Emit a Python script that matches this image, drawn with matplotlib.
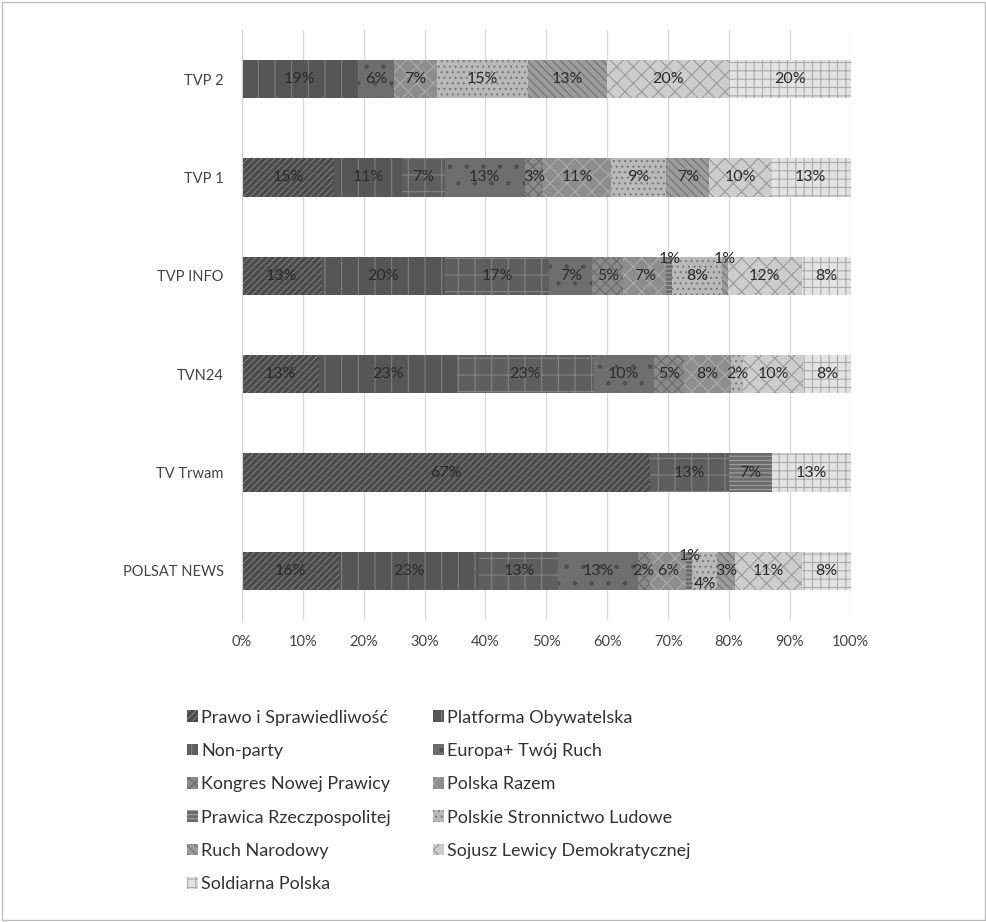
import numpy as np
import matplotlib
matplotlib.use('Agg')
import matplotlib.pyplot as plt
from matplotlib.patches import Rectangle

plt.rcParams['font.family'] = ['Lato', 'DejaVu Sans']
plt.rcParams['hatch.linewidth'] = 0.8

# Channels, top to bottom
channels = ['TVP 2', 'TVP 1', 'TVP INFO', 'TVN24', 'TV Trwam', 'POLSAT NEWS']

parties = ['Prawo i Sprawiedliwość', 'Platforma Obywatelska', 'Non-party',
           'Europa+ Twój Ruch', 'Kongres Nowej Prawicy', 'Polska Razem',
           'Prawica Rzeczpospolitej', 'Polskie Stronnictwo Ludowe',
           'Ruch Narodowy', 'Sojusz Lewicy Demokratycznej', 'Soldiarna Polska']

# share (%) per party, one list per channel, in party order
tvp2 = [0, 19, 0, 6, 0, 7, 0, 15, 13, 20, 20]
tvp1 = [15, 11, 7, 13, 3, 11, 0, 9, 7, 10, 13]
tvp_info = [13, 20, 17, 7, 5, 7, 1, 8, 1, 12, 8]
tvn24 = [13, 23, 23, 10, 5, 8, 0, 2, 0, 10, 8]
tv_trwam = [67, 0, 13, 0, 0, 0, 7, 0, 0, 0, 13]
polsat = [16, 23, 13, 13, 2, 6, 1, 4, 3, 11, 8]

# fill colour, hatch colour, hatch pattern for every party
styles = [
    ('#4b4b4b', '#7c7c7c', '/////'),
    ('#565656', '#7e7e7e', '|'),
    ('#5e5e5e', '#838383', '+'),
    ('#6e6e6e', '#4f4f4f', '.'),
    ('#8a8a8a', '#6a6a6a', 'xxx'),
    ('#8d8d8d', '#ababab', 'xx'),
    ('#6c6c6c', '#a0a0a0', '----'),
    ('#b9b9b9', '#7a7a7a', '...'),
    ('#9c9c9c', '#727272', '\\\\\\\\'),
    ('#cdcdcd', '#9a9a9a', 'xx'),
    ('#e3e3e3', '#ababab', '++'),
]

# labels that sit above/below the bar for tiny segments: (row, party) -> dy
label_shift = {(2, 6): -0.17, (2, 8): -0.17, (5, 6): -0.15, (5, 7): 0.13}

data = np.array([tvp2, tvp1, tvp_info, tvn24, tv_trwam, polsat], dtype=float)
shares = data / data.sum(axis=1, keepdims=True) * 100

fig = plt.figure(figsize=(9.87, 9.22), dpi=100)
ax = fig.add_axes([0.245, 0.3275, 0.617, 0.64])

y = np.arange(len(channels))
left = np.zeros(len(channels))
handles = []
for j, party in enumerate(parties):
    fc, hc, hatch = styles[j]
    bars = ax.barh(y, shares[:, j], left=left, height=0.39, color=fc,
                   edgecolor=hc, hatch=hatch, linewidth=0, label=party)
    handles.append(bars)
    for i in range(len(channels)):
        if data[i, j] > 0:
            dy = label_shift.get((i, j), 0)
            ax.text(left[i] + shares[i, j] / 2, y[i] + dy, f'{int(data[i, j])}%',
                    ha='center', va='center', fontsize=11.5, color='#2b2b2b')
    left += shares[:, j]

ax.set_xlim(0, 100)
ax.set_ylim(len(channels) - 0.5, -0.5)
ax.set_yticks(y)
ax.set_yticklabels(channels, fontsize=10.5, color='#444444')
ax.set_xticks(np.arange(0, 101, 10))
ax.set_xticklabels([f'{v}%' for v in range(0, 101, 10)], fontsize=10.5, color='#444444')
ax.tick_params(length=0, pad=11)
ax.tick_params(axis='y', pad=13)
ax.grid(axis='x', color='#d9d9d9', linewidth=0.9)
ax.set_axisbelow(True)
for side in ['top', 'right', 'bottom']:
    ax.spines[side].set_visible(False)
ax.spines['left'].set_color('#d0d0d0')

# legend fills row by row in the reference, matplotlib fills by column
order = [0, 2, 4, 6, 8, 10, 1, 3, 5, 7, 9]
fig.legend([handles[k] for k in order], [parties[k] for k in order],
           ncol=2, loc='upper left', bbox_to_anchor=(0.173, 0.248),
           frameon=False, fontsize=13, handlelength=0.6, handleheight=0.6,
           handletextpad=0.2, columnspacing=2.3, labelspacing=0.96,
           labelcolor='#333333')

fig.patches.append(Rectangle((0.002, 0.002), 0.996, 0.996, transform=fig.transFigure,
                             fill=False, edgecolor='#bdbdbd', linewidth=1))

fig.savefig('out.png', dpi=100)
